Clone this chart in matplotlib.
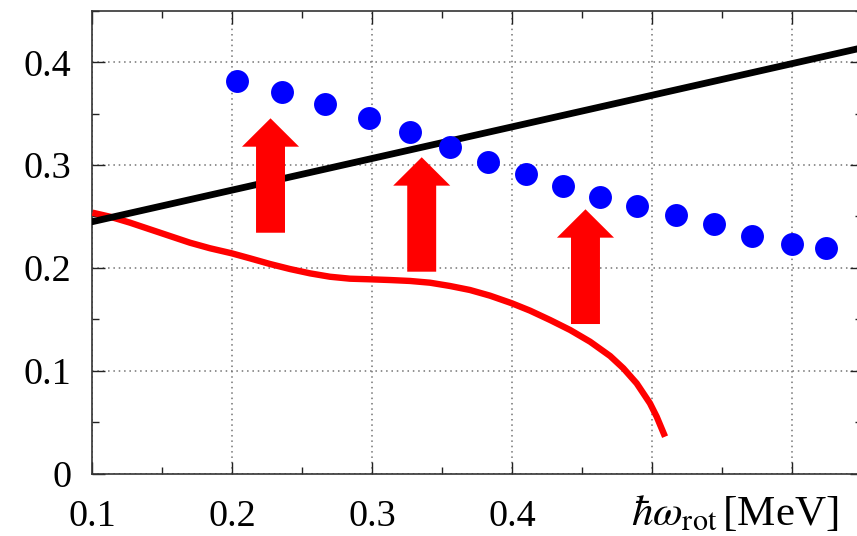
import numpy as np
import matplotlib
matplotlib.use("Agg")
import matplotlib.pyplot as plt
from matplotlib.ticker import MultipleLocator, FixedLocator, FixedFormatter

plt.rcParams["font.family"] = ["Liberation Serif", "DejaVu Serif"]
plt.rcParams["mathtext.fontset"] = "stix"

# blue points
dot_x = [0.2031, 0.2353, 0.2665, 0.2977, 0.3270, 0.3554, 0.3826, 0.4098,
         0.4362, 0.4631, 0.4895, 0.5172, 0.5444, 0.5716, 0.6000, 0.6243]
dot_y = [0.3821, 0.3714, 0.3591, 0.3455, 0.3319, 0.3173, 0.3033, 0.2914,
         0.2800, 0.2693, 0.2604, 0.2515, 0.2424, 0.2315, 0.2228, 0.2189]

# black straight line
line_x = [0.10, 0.65]
line_y = [0.245, 0.414]

# red curve
curve_x = [0.1000, 0.1125, 0.1268, 0.1411, 0.1554, 0.1697, 0.1840, 0.1995,
           0.2126, 0.2269, 0.2412, 0.2555, 0.2698, 0.2841, 0.2984, 0.3127,
           0.3270, 0.3413, 0.3556, 0.3699, 0.3842, 0.3998, 0.4129, 0.4272,
           0.4415, 0.4558, 0.4701, 0.4796, 0.4891, 0.4986, 0.5034, 0.5094]
curve_y = [0.2537, 0.2498, 0.2440, 0.2375, 0.2310, 0.2245, 0.2191, 0.2142,
           0.2093, 0.2038, 0.1989, 0.1947, 0.1914, 0.1895, 0.1889, 0.1882,
           0.1873, 0.1856, 0.1824, 0.1785, 0.1730, 0.1656, 0.1584, 0.1493,
           0.1396, 0.1282, 0.1143, 0.1023, 0.0877, 0.0683, 0.0553, 0.0358]

# red arrows (x, tail y, tip y)
arrow_x = [0.2273, 0.3354, 0.4525]
arrow_y0 = [0.2342, 0.1963, 0.1454]
arrow_y1 = [0.3455, 0.3076, 0.2570]

xticks = [0.1, 0.2, 0.3, 0.4, 0.5, 0.6]
xtick_labels = ["0.1", "0.2", "0.3", "0.4", "", ""]
yticks = [0, 0.1, 0.2, 0.3, 0.4]
ytick_labels = ["0", "0.1", "0.2", "0.3", "0.4"]

fig = plt.figure(figsize=(8.57, 5.36), dpi=100)
ax = fig.add_axes([0.1079, 0.1166, 0.8976, 0.8631])

ax.plot(curve_x, curve_y, color="#ff0000", lw=4.6, zorder=3,
        solid_capstyle="butt", solid_joinstyle="round")
ax.plot(line_x, line_y, color="black", lw=4.9, zorder=4)
for x, y0, y1 in zip(arrow_x, arrow_y0, arrow_y1):
    ax.arrow(x, y0, 0, y1 - y0, width=0.0207, head_width=0.0408,
             head_length=0.0276, length_includes_head=True,
             color="#ff0000", lw=0, zorder=5)
ax.plot(dot_x, dot_y, "o", color="#0000ff", ms=16.5, mec="none", zorder=6)

ax.set_xlim(0.1, 0.65)
ax.set_ylim(0, 0.45)
ax.xaxis.set_major_locator(FixedLocator(xticks))
ax.xaxis.set_major_formatter(FixedFormatter(xtick_labels))
ax.xaxis.set_minor_locator(MultipleLocator(0.05))
ax.yaxis.set_major_locator(FixedLocator(yticks))
ax.yaxis.set_major_formatter(FixedFormatter(ytick_labels))
ax.yaxis.set_minor_locator(MultipleLocator(0.05))
ax.tick_params(which="both", direction="in", top=True, right=True,
               labelsize=27.5, color="#222222", width=1)
ax.tick_params(axis="x", which="major", pad=19)
ax.tick_params(axis="y", which="major", pad=15)
ax.tick_params(which="major", length=9)
ax.tick_params(which="minor", length=5)
ax.grid(True, which="major", color="0.45", lw=1.1, linestyle=(0, (1, 2.5)))
ax.set_axisbelow(True)
for s in ax.spines.values():
    s.set_linewidth(1.2)
    s.set_color("#333333")

fig.text(838 / 857, 1 - 525 / 536, r"$\hbar\omega_{\mathrm{rot}}\,$[MeV]",
         ha="right", va="baseline", fontsize=31)

fig.savefig("out.png", dpi=100)
